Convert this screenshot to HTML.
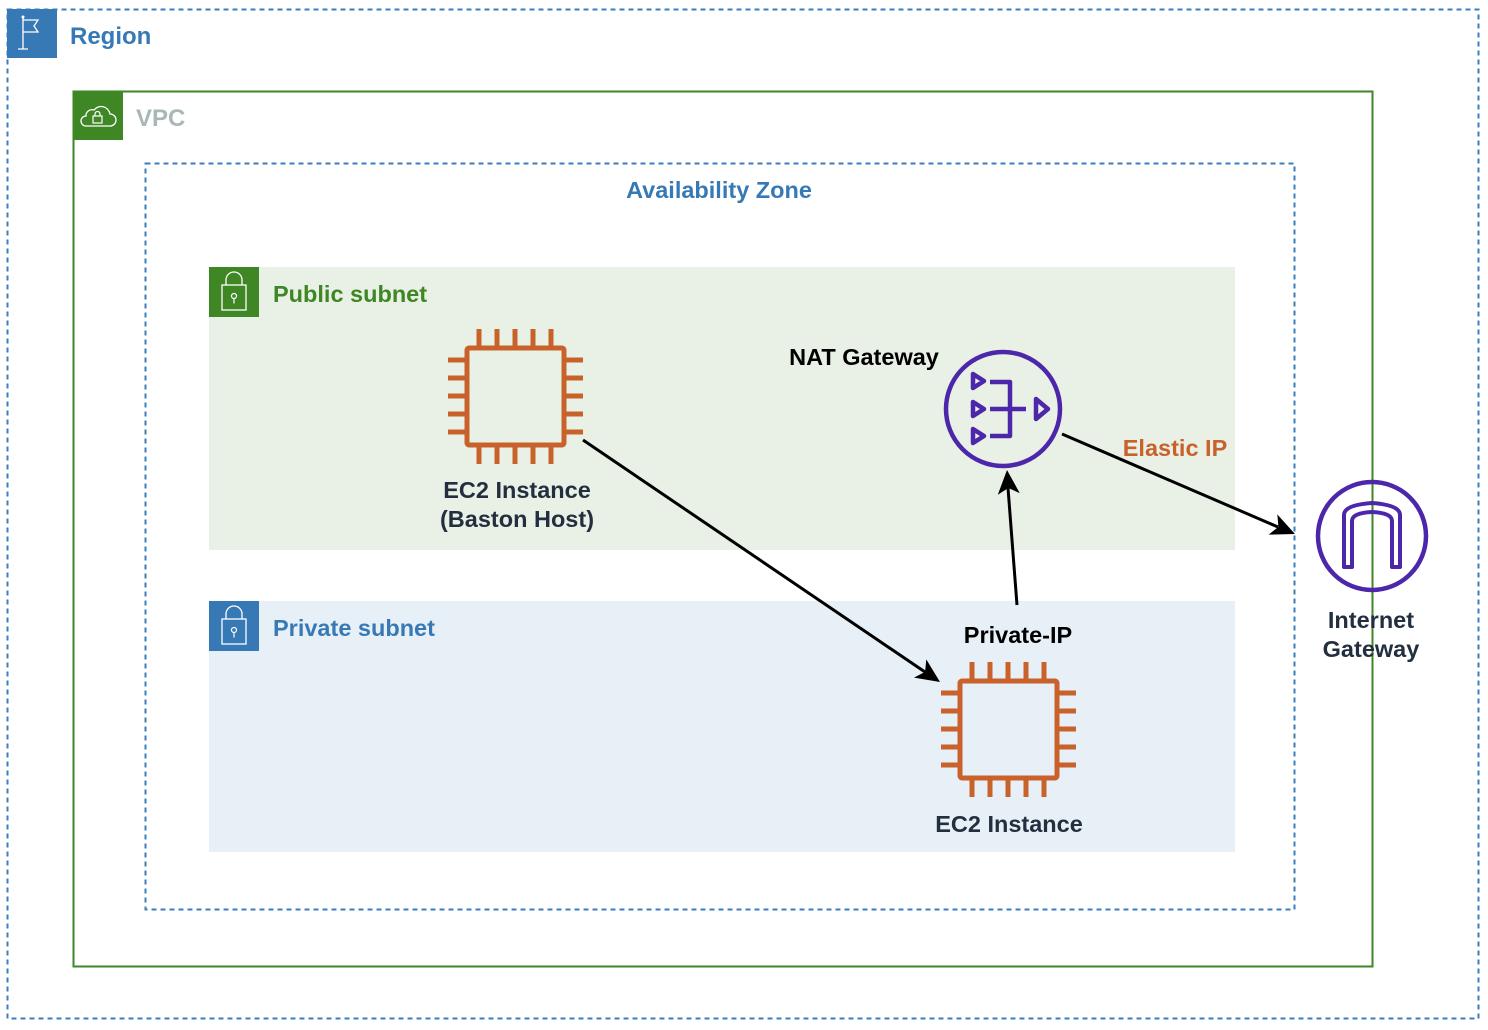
<!DOCTYPE html>
<html><head><meta charset="utf-8"><style>
body{margin:0;background:#fff;}
svg{display:block;font-family:"Liberation Sans",Arial,sans-serif;font-weight:bold;}
</style></head><body>
<svg width="1488" height="1030" viewBox="0 0 1488 1030">
<defs>
<g id="ec2" fill="none" stroke="#C8622A" stroke-width="5">
<rect x="19" y="19" width="97" height="97" rx="2"/>
<path d="M31 0v17M49 0v17M67 0v17M85 0v17M103 0v17 M31 118v17M49 118v17M67 118v17M85 118v17M103 118v17 M0 31h17M0 49h17M0 67h17M0 85h17M0 103h17 M118 31h17M118 49h17M118 67h17M118 85h17M118 103h17"/>
</g>
</defs>
<!-- Region -->
<rect x="7.5" y="9.5" width="1471" height="1009" fill="none" stroke="#3B7EBD" stroke-width="2" stroke-dasharray="5,4"/>
<rect x="7" y="9" width="50" height="49" fill="#3779B5"/>
<path d="M23 17v32M18 49h10M23 20h15l-4 6 4 6h-15" fill="none" stroke="#fff" stroke-width="1.3"/>
<circle cx="23" cy="17" r="1.5" fill="#fff"/>
<text x="70" y="44" font-size="24" fill="#3779B5">Region</text>
<!-- VPC -->
<rect x="73.5" y="91.5" width="1299" height="875" fill="none" stroke="#3F8624" stroke-width="2"/>
<rect x="73" y="91" width="50" height="49" fill="#3F8624"/>
<path d="M86 126h24a6 6 0 0 0 0-12a9 9 0 0 0-16-4a6 6 0 0 0-8 6a5 5 0 0 0 0 10z" fill="none" stroke="#fff" stroke-width="1.3"/>
<rect x="93" y="116" width="9" height="7" fill="none" stroke="#fff" stroke-width="1.2"/>
<path d="M95 116v-2a2.5 2.5 0 0 1 5 0v2" fill="none" stroke="#fff" stroke-width="1.2"/>
<text x="136" y="126" font-size="24" fill="#AAB7B8">VPC</text>
<!-- AZ -->
<rect x="145.5" y="163.5" width="1149" height="746" fill="none" stroke="#3B7EBD" stroke-width="2" stroke-dasharray="5,4"/>
<text x="719" y="198" font-size="23.5" fill="#3779B5" text-anchor="middle">Availability Zone</text>
<!-- Public subnet -->
<rect x="209" y="267" width="1026" height="283" fill="#E9F1E6"/>
<rect x="209" y="267" width="50" height="50" fill="#3F8624"/>
<rect x="222" y="285" width="24" height="25" fill="none" stroke="#fff" stroke-width="1.3"/>
<path d="M226 285v-5a8 8 0 0 1 16 0v5" fill="none" stroke="#fff" stroke-width="1.3"/>
<circle cx="234" cy="296" r="2.5" fill="none" stroke="#fff" stroke-width="1.2"/><path d="M234 298.5v5" stroke="#fff" stroke-width="1.2"/>
<text x="273" y="302" font-size="23.5" fill="#3F8624">Public subnet</text>
<!-- Private subnet -->
<rect x="209" y="601" width="1026" height="251" fill="#E7F0F6"/>
<rect x="209" y="601" width="50" height="50" fill="#3779B5"/>
<rect x="222" y="619" width="24" height="25" fill="none" stroke="#fff" stroke-width="1.3"/>
<path d="M226 619v-5a8 8 0 0 1 16 0v5" fill="none" stroke="#fff" stroke-width="1.3"/>
<circle cx="234" cy="630" r="2.5" fill="none" stroke="#fff" stroke-width="1.2"/><path d="M234 632.5v5" stroke="#fff" stroke-width="1.2"/>
<text x="273" y="636" font-size="23.5" fill="#3779B5">Private subnet</text>
<!-- EC2 icons -->
<use href="#ec2" x="448" y="329"/>
<use href="#ec2" x="941" y="662"/>
<text x="517" y="498" font-size="23.5" fill="#232F3E" text-anchor="middle">EC2 Instance</text>
<text x="517" y="527" font-size="23.5" fill="#232F3E" text-anchor="middle">(Baston Host)</text>
<text x="1009" y="832" font-size="23.5" fill="#232F3E" text-anchor="middle">EC2 Instance</text>
<!-- NAT -->
<circle cx="1003" cy="409" r="57" fill="none" stroke="#4D27AA" stroke-width="4.5"/>
<g fill="none" stroke="#4D27AA" stroke-width="4.5" stroke-linejoin="round">
<path d="M973 374l11 7-11 7z M973 402l11 7-11 7z M973 429l11 7-11 7z"/>
<path d="M990 382h20v54h-20 M990 409h36"/>
<path d="M1036 399l12 10-12 10z"/>
</g>
<text x="864" y="365" font-size="23.5" fill="#000" text-anchor="middle">NAT Gateway</text>
<text x="1175" y="456" font-size="23.5" fill="#C8622A" text-anchor="middle">Elastic IP</text>
<!-- IGW -->
<circle cx="1372" cy="536" r="54" fill="none" stroke="#4D27AA" stroke-width="4.5"/>
<path d="M1344 567v-52q0-10 28-12q28 2 28 12v52h-8v-46q0-8-20-9q-20 1-20 9v46z" fill="none" stroke="#4D27AA" stroke-width="4" stroke-linejoin="round"/>
<text x="1371" y="628" font-size="23.5" fill="#232F3E" text-anchor="middle">Internet</text>
<text x="1371" y="657" font-size="23.5" fill="#232F3E" text-anchor="middle">Gateway</text>
<text x="1018" y="643" font-size="23.5" fill="#000" text-anchor="middle">Private-IP</text>
<!-- arrows -->
<g stroke="#000" stroke-width="3" fill="none">
<line x1="583" y1="440" x2="925" y2="672"/>
<line x1="1017" y1="605" x2="1008" y2="488"/>
<line x1="1062" y1="434" x2="1278" y2="527"/>
</g>
<g fill="#000">
<path d="M0,0 L-24,-11 L-18,0 L-24,11 Z" transform="translate(940,682) rotate(34.1)"/>
<path d="M0,0 L-24,-11 L-18,0 L-24,11 Z" transform="translate(1007,470) rotate(-94.2)"/>
<path d="M0,0 L-24,-11 L-18,0 L-24,11 Z" transform="translate(1295,534) rotate(23.3)"/>
</g>
</svg>
</body></html>
